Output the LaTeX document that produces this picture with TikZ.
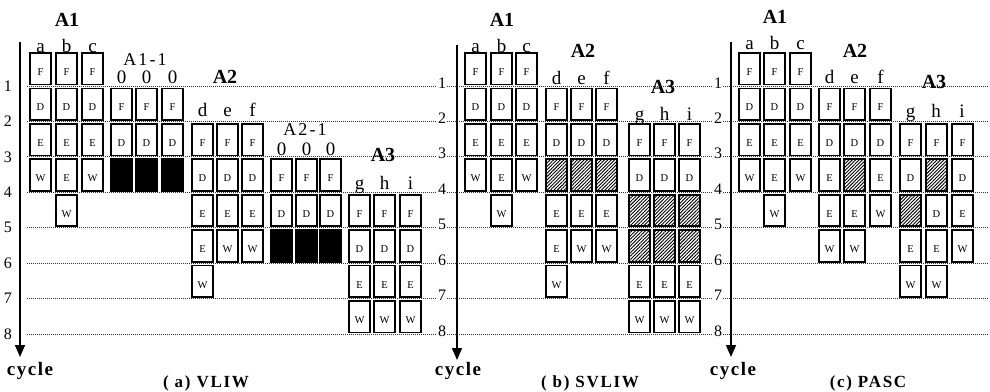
\documentclass[tikz,border=0pt]{standalone}
\usepackage{fontspec}
\setmainfont{Liberation Serif}
\newfontfamily\spfont[LetterSpace=10]{Liberation Serif}
\newfontfamily\cyfont[LetterSpace=8]{Liberation Serif}
\newfontfamily\sbfont[LetterSpace=12]{Liberation Serif}
\usetikzlibrary{patterns.meta,arrows.meta}
\def\txtF{F}\def\txtD{D}\def\txtE{E}\def\txtW{W}\def\txtH{}\def\txtK{}
\newcommand\colcells[4]{%
  \foreach \l [count=\i from 0] in {#4}{%
    \pgfmathtruncatemacro\r{#3+\i}%
    \begingroup
    \edef\x{\noexpand\node[cell,c\l] (#1-\r) at ({#2+11.5},{50.6+35.43*(\r-1)+18.2}) {\csname txt\l\endcsname};}%
    \x
    \endgroup
  }}
\tikzset{
 cell/.style={draw, line width=1.7pt, fill=white, minimum width=21.5pt, minimum height=31.5pt, inner sep=0pt,
   font=\fontsize{10.5}{12}\selectfont, text height=13.4pt, text depth=0pt},
 cF/.style={}, cD/.style={}, cE/.style={}, cW/.style={},
 cH/.style={pattern={Lines[angle=45,distance=2.4pt,line width=0.9pt]}},
 cK/.style={fill=black},
 gridline/.style={line width=0.8pt, dash pattern=on 1pt off 1pt, black!80},
 axisline/.style={line width=1.5pt, -{Triangle[length=12pt,width=10pt]}},
 numa/.style={font=\fontsize{16}{18}\selectfont, inner sep=0.5pt},
 numb/.style={font=\fontsize{16}{18}\selectfont, inner sep=1pt, fill=white, anchor=base},
 ttl/.style={font=\fontsize{20}{22}\selectfont\bfseries, anchor=base, inner sep=0pt},
 lbl/.style={font=\fontsize{19}{21}\selectfont, anchor=base, inner sep=0pt},
 sublbl/.style={font=\sbfont\fontsize{18}{20}\selectfont, anchor=base, inner sep=0pt},
 cyc/.style={font=\cyfont\fontsize{19}{21}\selectfont\bfseries, anchor=base, inner sep=0pt},
 captn/.style={font=\spfont\fontsize{17}{19}\selectfont\bfseries, anchor=base, inner sep=0pt},
}
\begin{document}
\begin{tikzpicture}[x=1pt,y=-1pt]
\useasboundingbox (0,0) rectangle (990,391);
% dotted cycle lines
\foreach \k in {1,...,8}{
  \coordinate (gl-\k) at (27,{50.6+35.43*\k});
  \coordinate (gr-\k) at (988,{50.6+35.43*\k});
  \draw[gridline] (gl-\k) -- (gr-\k);
}
% row numbers
\foreach \k in {1,...,8}{
  \node[numa] (na-\k) at (8,{50.6+35.43*\k}) {\k};
  \node[numb] (nb-\k) at (442,{52.6+35.43*\k}) {\k};
  \node[numb] (nc-\k) at (718,{52.6+35.43*\k}) {\k};
}
% axes
\coordinate (ta) at (20,42);  \coordinate (ba) at (20,357);
\coordinate (tb) at (457,45); \coordinate (bb) at (457,360);
\coordinate (tc) at (731,42); \coordinate (bc) at (731,357);
\draw[axisline] (ta) -- (ba);
\draw[axisline] (tb) -- (bb);
\draw[axisline] (tc) -- (bc);
\node[cyc] (cya) at (30,375) {cycle};
\node[cyc] (cyb) at (458,375) {cycle};
\node[cyc] (cyc) at (733,375) {cycle};
\node[captn] (capa) at (206,387) {( a) VLIW};
\node[captn] (capb) at (590,387) {( b) SVLIW};
\node[captn] (capc) at (868,387) {(c) PASC};
% ---------- panel (a)
\colcells{pa-a}{29}{1}{F,D,E,W}
\colcells{pa-b}{55}{1}{F,D,E,E,W}
\colcells{pa-c}{81}{1}{F,D,E,W}
\colcells{pa-o1}{110}{2}{F,D,K}
\colcells{pa-o2}{135}{2}{F,D,K}
\colcells{pa-o3}{161}{2}{F,D,K}
\colcells{pa-d}{191}{3}{F,D,E,E,W}
\colcells{pa-e}{216}{3}{F,D,E,W}
\colcells{pa-f}{241}{3}{F,D,E,W}
\colcells{pa-p1}{270}{4}{F,D,K}
\colcells{pa-p2}{295}{4}{F,D,K}
\colcells{pa-p3}{319}{4}{F,D,K}
\colcells{pa-g}{348}{5}{F,D,E,W}
\colcells{pa-h}{373}{5}{F,D,E,W}
\colcells{pa-i}{399}{5}{F,D,E,W}
\node[ttl] (ta1) at (67,26) {A1};
\node[lbl] (la-a) at (40.5,52) {a};
\node[lbl] (la-b) at (66.5,52) {b};
\node[lbl] (la-c) at (92.5,52) {c};
\node[sublbl] (ta11) at (145,65) {A1-1};
\node[lbl] (la-o1) at (121.5,83) {0};
\node[lbl] (la-o2) at (146.5,83) {0};
\node[lbl] (la-o3) at (172.5,83) {0};
\node[ttl] (ta2) at (225,83) {A2};
\node[lbl] (la-d) at (202.5,116) {d};
\node[lbl] (la-e) at (227.5,116) {e};
\node[lbl] (la-f) at (252.5,116) {f};
\node[sublbl] (ta21) at (305,135) {A2-1};
\node[lbl] (la-p1) at (281.5,155) {0};
\node[lbl] (la-p2) at (306.5,155) {0};
\node[lbl] (la-p3) at (330.5,155) {0};
\node[ttl] (ta3) at (383,161) {A3};
\node[lbl] (la-g) at (359.5,189) {g};
\node[lbl] (la-h) at (384.5,189) {h};
\node[lbl] (la-i) at (410.5,189) {i};
% ---------- panel (b)
\colcells{pb-a}{464}{1}{F,D,E,W}
\colcells{pb-b}{490}{1}{F,D,E,E,W}
\colcells{pb-c}{515}{1}{F,D,E,W}
\colcells{pb-d}{545}{2}{F,D,H,E,E,W}
\colcells{pb-e}{570}{2}{F,D,H,E,W}
\colcells{pb-f}{595}{2}{F,D,H,E,W}
\colcells{pb-g}{628}{3}{F,D,H,H,E,W}
\colcells{pb-h}{653}{3}{F,D,H,H,E,W}
\colcells{pb-i}{678}{3}{F,D,H,H,E,W}
\node[ttl] (tb1) at (502,26) {A1};
\node[lbl] (lb-a) at (475.5,52) {a};
\node[lbl] (lb-b) at (501.5,52) {b};
\node[lbl] (lb-c) at (526.5,52) {c};
\node[ttl] (tb2) at (583,57) {A2};
\node[lbl] (lb-d) at (556.5,84) {d};
\node[lbl] (lb-e) at (581.5,84) {e};
\node[lbl] (lb-f) at (606.5,84) {f};
\node[ttl] (tb3) at (663,93) {A3};
\node[lbl] (lb-g) at (639.5,120) {g};
\node[lbl] (lb-h) at (664.5,120) {h};
\node[lbl] (lb-i) at (689.5,120) {i};
% ---------- panel (c)
\colcells{pc-a}{738}{1}{F,D,E,W}
\colcells{pc-b}{763}{1}{F,D,E,E,W}
\colcells{pc-c}{789}{1}{F,D,E,W}
\colcells{pc-d}{818}{2}{F,D,E,E,W}
\colcells{pc-e}{843}{2}{F,D,H,E,W}
\colcells{pc-f}{869}{2}{F,D,E,W}
\colcells{pc-g}{899}{3}{F,D,H,E,W}
\colcells{pc-h}{925}{3}{F,H,D,E,W}
\colcells{pc-i}{951}{3}{F,D,E,W}
\node[ttl] (tc1) at (775,23) {A1};
\node[lbl] (lc-a) at (749.5,49) {a};
\node[lbl] (lc-b) at (774.5,49) {b};
\node[lbl] (lc-c) at (800.5,49) {c};
\node[ttl] (tc2) at (855,57) {A2};
\node[lbl] (lc-d) at (829.5,83) {d};
\node[lbl] (lc-e) at (854.5,83) {e};
\node[lbl] (lc-f) at (880.5,83) {f};
\node[ttl] (tc3) at (934,88) {A3};
\node[lbl] (lc-g) at (910.5,117) {g};
\node[lbl] (lc-h) at (936,117) {h};
\node[lbl] (lc-i) at (962,117) {i};
\end{tikzpicture}
\end{document}
